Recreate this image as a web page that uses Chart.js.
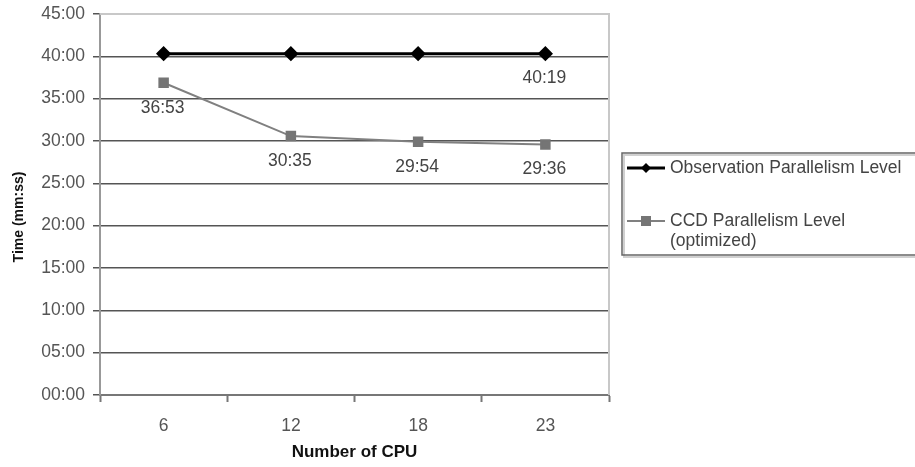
<!DOCTYPE html>
<html>
<head>
<meta charset="utf-8">
<script src="https://cdn.jsdelivr.net/npm/chart.js@4/dist/chart.umd.min.js"></script>
<style>
  html, body { margin: 0; padding: 0; background: #fff; }
  #wrap { width: 915px; height: 467px; }
</style>
</head>
<body>
<div id="wrap"><canvas id="c"></canvas></div>
<script>
// number of CPUs on the x axis
const cpus = ['6', '12', '18', '23']
// run times in seconds (mm:ss)
const observationTimes = [2419, 2419, 2419, 2419]
const ccdTimes = [2213, 1835, 1794, 1776]
// which points carry a value label
const observationLabels = [false, false, false, true]
const ccdLabels = [true, true, true, true]

const seriesNames = ['Observation Parallelism Level', ['CCD Parallelism Level', '(optimized)']]

const FONT = '"Liberation Sans", Arial, sans-serif'

const mmss = (v) => {
    const m = Math.floor(v / 60)
    const s = Math.round(v - m * 60)
    return String(m).padStart(2, '0') + ':' + String(s).padStart(2, '0')
}

// value labels under the points
const pointLabels = {
    id: 'pointLabels',
    afterDatasetsDraw(chart) {
        const ctx = chart.ctx
        ctx.save()
        ctx.font = '17.5px ' + FONT
        ctx.fillStyle = '#444'
        ctx.textAlign = 'center'
        ctx.textBaseline = 'middle'
        chart.data.datasets.forEach((ds, i) => {
            const meta = chart.getDatasetMeta(i)
            meta.data.forEach((pt, j) => {
                if (!ds.showLabel[j]) return
                ctx.fillText(mmss(ds.data[j]), pt.x - 1, pt.y + 25)
            })
        })
        ctx.restore()
    },
}

// plot border on the right, y title and excel style legend box
const frameAndLegend = {
    id: 'frameAndLegend',
    beforeDatasetsDraw(chart) {
        const { ctx, chartArea } = chart
        ctx.save()
        ctx.strokeStyle = '#c8c8c8'
        ctx.lineWidth = 2
        ctx.beginPath()
        ctx.moveTo(chartArea.left, chartArea.top)
        ctx.lineTo(chartArea.right, chartArea.top)
        ctx.lineTo(chartArea.right, chartArea.bottom)
        ctx.stroke()
        ctx.restore()
    },
    afterDraw(chart) {
        const ctx = chart.ctx
        ctx.save()
        ctx.translate(19, 217)
        ctx.rotate(-Math.PI / 2)
        ctx.font = 'bold 14px ' + FONT
        ctx.fillStyle = '#111'
        ctx.textAlign = 'center'
        ctx.textBaseline = 'middle'
        ctx.fillText('Time (mm:ss)', 0, 0)
        ctx.restore()

        const x0 = 622, y0 = 153, x1 = 918, y1 = 255
        ctx.save()
        ctx.strokeStyle = '#d0d0d0'
        ctx.lineWidth = 2
        ctx.strokeRect(x0 + 2, y0 + 2, x1 - x0, y1 - y0)
        ctx.strokeStyle = '#666'
        ctx.lineWidth = 1.5
        ctx.strokeRect(x0, y0, x1 - x0, y1 - y0)

        ctx.font = '17.5px ' + FONT
        ctx.textBaseline = 'middle'
        const rows = [168, 221]
        chart.data.datasets.forEach((ds, i) => {
            const y = rows[i]
            ctx.strokeStyle = ds.borderColor
            ctx.lineWidth = ds.borderWidth
            ctx.beginPath()
            ctx.moveTo(627, y)
            ctx.lineTo(665, y)
            ctx.stroke()
            ctx.fillStyle = ds.pointBackgroundColor
            if (ds.pointStyle === 'rectRot') {
                ctx.beginPath()
                ctx.moveTo(646, y - 5)
                ctx.lineTo(651, y)
                ctx.lineTo(646, y + 5)
                ctx.lineTo(641, y)
                ctx.closePath()
                ctx.fill()
            } else {
                ctx.fillRect(641, y - 5, 10, 10)
            }
            ctx.fillStyle = '#444'
            const name = seriesNames[i]
            const lines = Array.isArray(name) ? name : [name]
            lines.forEach((t, k) => ctx.fillText(t, 670, y + k * 20))
        })
        ctx.restore()
    },
}

new Chart(document.getElementById('c'), {
    type: 'line',
    data: {
        labels: cpus,
        datasets: [
            {
                label: 'Observation Parallelism Level',
                data: observationTimes,
                showLabel: observationLabels,
                borderColor: '#000',
                borderWidth: 3,
                pointStyle: 'rectRot',
                pointRadius: 5.5,
                pointBackgroundColor: '#000',
                pointBorderColor: '#000',
                tension: 0,
            },
            {
                label: 'CCD Parallelism Level (optimized)',
                data: ccdTimes,
                showLabel: ccdLabels,
                borderColor: '#808080',
                borderWidth: 2,
                pointStyle: 'rect',
                pointRadius: 6,
                pointBackgroundColor: '#757575',
                pointBorderColor: '#757575',
                tension: 0,
            },
        ],
    },
    options: {
        responsive: true,
        maintainAspectRatio: false,
        animation: false,
        devicePixelRatio: 1,
        layout: { padding: { left: 0, right: 306, top: 14, bottom: 0 } },
        plugins: {
            legend: { display: false },
            tooltip: { enabled: false },
        },
        scales: {
            x: {
                offset: true,
                grid: {
                    offset: true,
                    drawOnChartArea: false,
                    color: '#777',
                    tickLength: 7,
                    tickWidth: 2,
                },
                border: { color: '#777', width: 2 },
                ticks: {
                    color: '#555',
                    font: { family: FONT, size: 17.5 },
                    padding: 14,
                    maxRotation: 0,
                },
                title: {
                    display: true,
                    text: 'Number of CPU',
                    color: '#111',
                    font: { family: FONT, size: 17, weight: 'bold' },
                    padding: { top: 0, bottom: 4 },
                },
                afterFit: (s) => { s.height = 72 },
            },
            y: {
                min: 0,
                max: 2700,
                grid: {
                    color: '#555',
                    lineWidth: 1.5,
                    tickLength: 7,
                },
                border: { color: '#999', width: 2 },
                ticks: {
                    stepSize: 300,
                    color: '#555',
                    font: { family: FONT, size: 17.5 },
                    padding: 8,
                    callback: (v) => mmss(v),
                },
                afterFit: (s) => {
                    s.width = 100
                    s.paddingTop = 0
                    s.paddingBottom = 0
                },
            },
        },
    },
    plugins: [pointLabels, frameAndLegend],
})
</script>
</body>
</html>
